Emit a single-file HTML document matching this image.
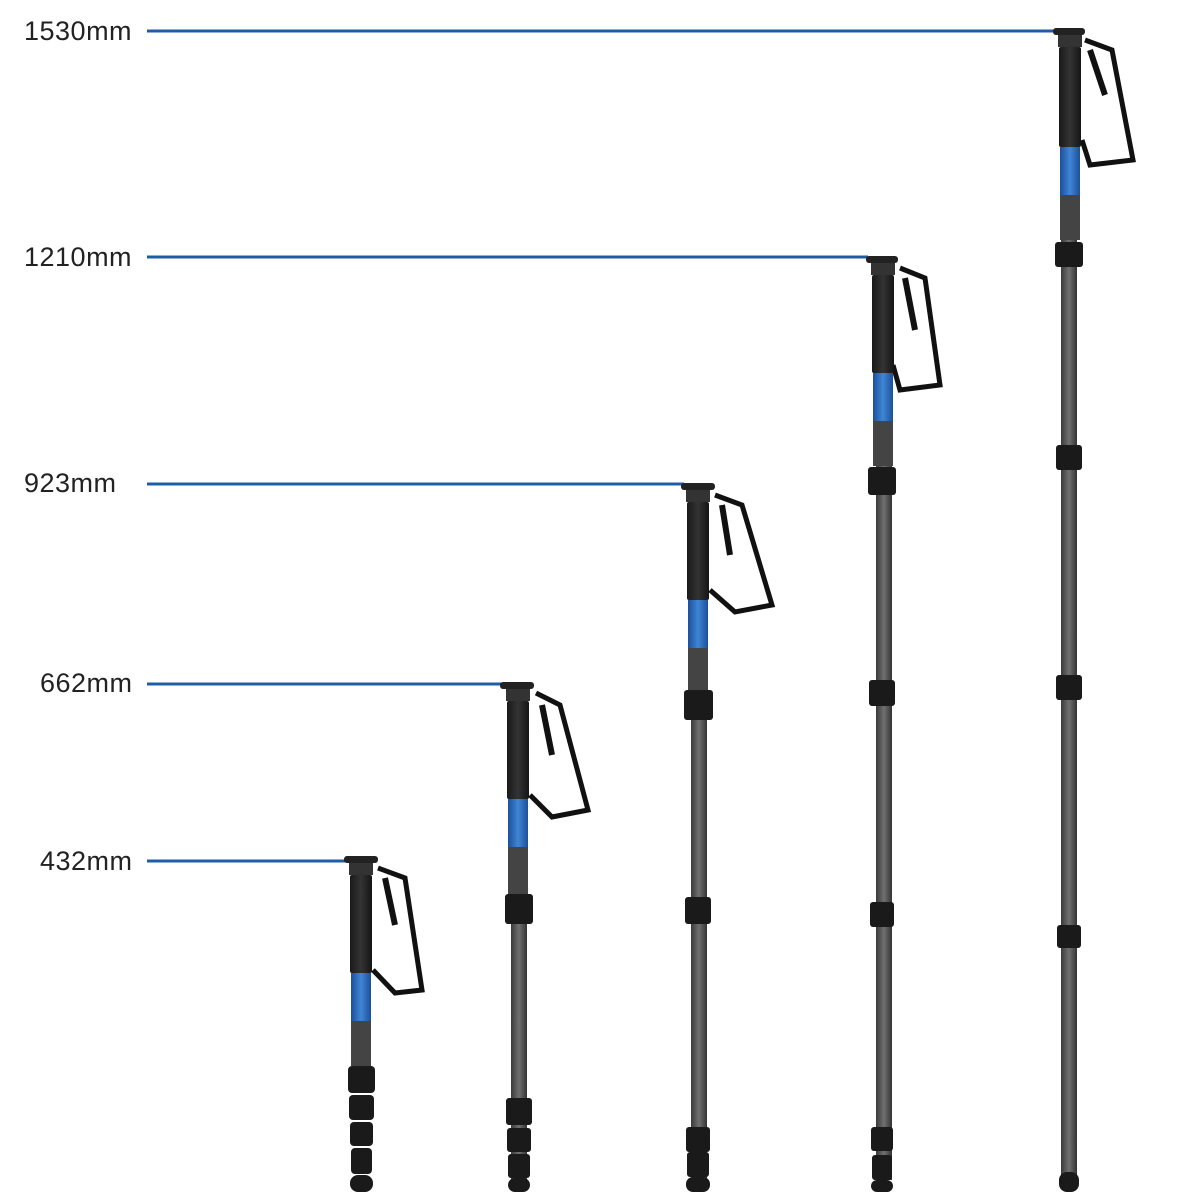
<!DOCTYPE html>
<html><head><style>
html,body{margin:0;padding:0;background:#fff;}
svg{display:block;}
text{font-family:"Liberation Sans",sans-serif;font-size:27px;fill:#222;letter-spacing:0.5px;}
</style></head><body>
<svg width="1200" height="1200" viewBox="0 0 1200 1200">
<defs>
<linearGradient id="cf" x1="0" x2="1"><stop offset="0" stop-color="#3a3a3a"/><stop offset="0.5" stop-color="#707070"/><stop offset="1" stop-color="#333"/></linearGradient>
<linearGradient id="gr" x1="0" x2="1"><stop offset="0" stop-color="#1a1a1a"/><stop offset="0.5" stop-color="#333"/><stop offset="1" stop-color="#151515"/></linearGradient>
<linearGradient id="bl" x1="0" x2="1"><stop offset="0" stop-color="#1c4f9a"/><stop offset="0.5" stop-color="#3f86d6"/><stop offset="1" stop-color="#1c4f9a"/></linearGradient>
</defs>
<g stroke="#1f5ca6" stroke-width="3">
<line x1="147" y1="31" x2="1058" y2="31"/>
<line x1="147" y1="257" x2="868" y2="257"/>
<line x1="147" y1="484" x2="684" y2="484"/>
<line x1="147" y1="684" x2="502" y2="684"/>
<line x1="147" y1="861" x2="346" y2="861"/>
</g>
<text x="24" y="40">1530mm</text>
<text x="24" y="266">1210mm</text>
<text x="24" y="492">923mm</text>
<text x="40" y="692">662mm</text>
<text x="40" y="870">432mm</text>

<!-- Pod 5 -->
<g>
<path d="M1085 40 L1112 50 L1133 160 L1090 165 L1082 140" fill="none" stroke="#111" stroke-width="5"/>
<path d="M1090 50 L1105 95" stroke="#111" stroke-width="6"/>
<rect x="1061" y="150" width="16" height="1030" fill="url(#cf)"/>
<rect x="1053" y="28" width="32" height="7" rx="3" fill="#222"/>
<rect x="1058" y="35" width="24" height="12" fill="#333"/>
<rect x="1059" y="47" width="22" height="100" rx="2" fill="url(#gr)"/>
<rect x="1060" y="147" width="20" height="48" fill="url(#bl)"/>
<rect x="1060" y="195" width="20" height="45" fill="#444"/>
<rect x="1055" y="242" width="28" height="25" rx="3" fill="#1a1a1a"/>
<rect x="1056" y="445" width="26" height="25" rx="3" fill="#1a1a1a"/>
<rect x="1056" y="675" width="26" height="25" rx="3" fill="#1a1a1a"/>
<rect x="1057" y="925" width="24" height="23" rx="3" fill="#1a1a1a"/>
<rect x="1059" y="1172" width="20" height="20" rx="8" fill="#1a1a1a"/>
</g>
<!-- Pod 4 -->
<g>
<path d="M900 268 L925 278 L940 385 L900 390 L893 365" fill="none" stroke="#111" stroke-width="5"/>
<path d="M905 278 L915 330" stroke="#111" stroke-width="6"/>
<rect x="876" y="375" width="16" height="805" fill="url(#cf)"/>
<rect x="866" y="256" width="32" height="7" rx="3" fill="#222"/>
<rect x="871" y="263" width="24" height="12" fill="#333"/>
<rect x="872" y="275" width="22" height="98" rx="2" fill="url(#gr)"/>
<rect x="873" y="373" width="20" height="48" fill="url(#bl)"/>
<rect x="873" y="421" width="20" height="45" fill="#444"/>
<rect x="868" y="467" width="28" height="28" rx="3" fill="#1a1a1a"/>
<rect x="869" y="680" width="26" height="26" rx="3" fill="#1a1a1a"/>
<rect x="870" y="902" width="24" height="25" rx="3" fill="#1a1a1a"/>
<rect x="871" y="1127" width="22" height="24" rx="3" fill="#1a1a1a"/>
<rect x="872" y="1155" width="20" height="25" rx="3" fill="#1a1a1a"/>
<rect x="871" y="1180" width="22" height="12" rx="6" fill="#1a1a1a"/>
</g>
<!-- Pod 3 -->
<g>
<path d="M715 495 L742 505 L772 605 L735 612 L710 590" fill="none" stroke="#111" stroke-width="5"/>
<path d="M722 505 L730 555" stroke="#111" stroke-width="6"/>
<rect x="691" y="600" width="16" height="580" fill="url(#cf)"/>
<rect x="681" y="483" width="34" height="7" rx="3" fill="#222"/>
<rect x="686" y="490" width="24" height="12" fill="#333"/>
<rect x="687" y="502" width="22" height="98" rx="2" fill="url(#gr)"/>
<rect x="688" y="600" width="20" height="48" fill="url(#bl)"/>
<rect x="688" y="648" width="20" height="42" fill="#444"/>
<rect x="684" y="690" width="29" height="30" rx="3" fill="#1a1a1a"/>
<rect x="685" y="897" width="26" height="27" rx="3" fill="#1a1a1a"/>
<rect x="686" y="1127" width="24" height="25" rx="3" fill="#1a1a1a"/>
<rect x="687" y="1152" width="22" height="25" rx="3" fill="#1a1a1a"/>
<rect x="686" y="1177" width="24" height="15" rx="7" fill="#1a1a1a"/>
</g>
<!-- Pod 2 -->
<g>
<path d="M536 693 L560 705 L588 810 L552 817 L530 795" fill="none" stroke="#111" stroke-width="5"/>
<path d="M542 705 L552 755" stroke="#111" stroke-width="6"/>
<rect x="511" y="800" width="16" height="380" fill="url(#cf)"/>
<rect x="500" y="682" width="34" height="7" rx="3" fill="#222"/>
<rect x="506" y="689" width="24" height="12" fill="#333"/>
<rect x="507" y="701" width="22" height="98" rx="2" fill="url(#gr)"/>
<rect x="508" y="799" width="20" height="48" fill="url(#bl)"/>
<rect x="508" y="847" width="20" height="47" fill="#444"/>
<rect x="505" y="894" width="28" height="30" rx="3" fill="#1a1a1a"/>
<rect x="506" y="1098" width="26" height="27" rx="3" fill="#1a1a1a"/>
<rect x="507" y="1128" width="24" height="24" rx="3" fill="#1a1a1a"/>
<rect x="508" y="1154" width="22" height="24" rx="3" fill="#1a1a1a"/>
<rect x="508" y="1178" width="22" height="14" rx="7" fill="#1a1a1a"/>
</g>
<!-- Pod 1 -->
<g>
<path d="M378 868 L405 878 L422 990 L395 993 L373 970" fill="none" stroke="#111" stroke-width="5"/>
<path d="M385 878 L395 925" stroke="#111" stroke-width="6"/>
<rect x="344" y="856" width="34" height="7" rx="3" fill="#222"/>
<rect x="349" y="863" width="24" height="12" fill="#333"/>
<rect x="350" y="875" width="22" height="98" rx="2" fill="url(#gr)"/>
<rect x="351" y="973" width="20" height="48" fill="url(#bl)"/>
<rect x="351" y="1021" width="20" height="45" fill="#444"/>
<rect x="348" y="1066" width="27" height="27" rx="4" fill="#1a1a1a"/>
<rect x="349" y="1095" width="25" height="25" rx="4" fill="#1a1a1a"/>
<rect x="350" y="1122" width="23" height="24" rx="4" fill="#1a1a1a"/>
<rect x="351" y="1148" width="21" height="26" rx="4" fill="#1a1a1a"/>
<rect x="350" y="1175" width="23" height="17" rx="8" fill="#1a1a1a"/>
</g>
</svg>
</body></html>
